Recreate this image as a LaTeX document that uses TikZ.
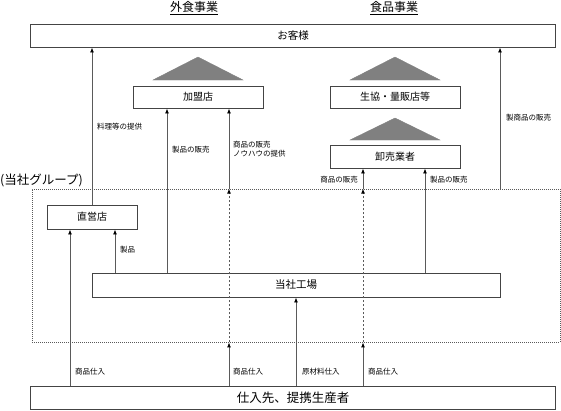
\documentclass[tikz,border=0pt]{standalone}
\usepackage{fontspec}
\setmainfont{Noto Sans CJK JP}
\usetikzlibrary{arrows.meta}
\definecolor{linegray}{HTML}{5A5A5A}
\definecolor{boxgray}{HTML}{444444}
\definecolor{trigray}{HTML}{808080}
\begin{document}
\begin{tikzpicture}[x=1pt,y=-1pt,
  box/.style={draw=boxgray,line width=0.9pt,fill=white,inner sep=0pt,font=\fontsize{10}{10}\selectfont},
  lbl/.style={font=\fontsize{7.5}{9}\selectfont,inner sep=0pt,anchor=west,align=left},
  arr/.style={draw=linegray,line width=0.9pt,-{Latex[length=5pt,width=4pt,fill=black,color=black]}},
  dotarr/.style={arr,dash pattern=on 2pt off 2pt},
  tri/.style={fill=trigray,draw=trigray},
  grpbox/.style={draw=linegray,line width=0.8pt,dash pattern=on 1pt off 1pt,inner sep=0pt},
  title/.style={font=\fontsize{12}{12}\selectfont,inner sep=0pt}]
\useasboundingbox (0,0) rectangle (561,410);

% titles
\node[title] (t1) at (194,8) {\underline{外食事業}};
\node[title] (t2) at (394,8) {\underline{食品事業}};

% group frame
\node[grpbox,minimum width=528pt,minimum height=153pt] (grp) at (296,265.5) {};
\node[font=\fontsize{12.5}{12.5}\selectfont,inner sep=0pt,anchor=west] (grplbl) at (0,180) {(当社グループ)};

% boxes
\node[box,minimum width=525pt,minimum height=23pt,font=\fontsize{10.5}{10.5}\selectfont] (cust) at (293,35.5) {お客様};
\node[box,minimum width=130pt,minimum height=22pt] (fran) at (198,97) {加盟店};
\node[box,minimum width=130pt,minimum height=22pt] (coop) at (395,97) {生協・量販店等};
\node[box,minimum width=130pt,minimum height=23pt] (whol) at (395,156.5) {卸売業者};
\node[box,minimum width=90pt,minimum height=24pt] (direct) at (92,217) {直営店};
\node[box,minimum width=408pt,minimum height=24pt,font=\fontsize{10.5}{10.5}\selectfont] (factory) at (296,285) {当社工場};
\node[box,minimum width=525pt,minimum height=23pt,font=\fontsize{12.5}{12.5}\selectfont] (supp) at (293,397.5) {仕入先、提携生産者};

% triangles
\fill[tri] (153,80) -- (198,57) -- (243,80) -- cycle;
\fill[tri] (350,80) -- (395,57) -- (440,80) -- cycle;
\fill[tri] (350,140) -- (395,118) -- (440,140) -- cycle;

% column coordinates
\coordinate (c70) at (70,0);
\coordinate (c115) at (115,0);
\coordinate (c167) at (167,0);
\coordinate (c229) at (229,0);
\coordinate (c363) at (363,0);
\coordinate (c425) at (425,0);
\coordinate (c500) at (500,0);

% connectors
\draw[arr] (direct.north) -- (direct.north |- cust.south);
\draw[arr] (c70 |- supp.north) -- (c70 |- direct.south);
\draw[arr] (c115 |- factory.north) -- (c115 |- direct.south);
\draw[arr] (c167 |- factory.north) -- (c167 |- fran.south);
\draw[arr] (c229 |- supp.north) -- (c229 |- grp.south);
\draw[dotarr] (c229 |- grp.south) -- (c229 |- grp.north);
\draw[arr] (c229 |- grp.north) -- (c229 |- fran.south);
\draw[arr] (c363 |- supp.north) -- (c363 |- grp.south);
\draw[dotarr] (c363 |- grp.south) -- (c363 |- grp.north);
\draw[arr] (c363 |- grp.north) -- (c363 |- whol.south);
\draw[arr] (supp.north -| factory.south) -- (factory.south);
\draw[arr] (c425 |- factory.north) -- (c425 |- whol.south);
\draw[arr] (c500 |- grp.north) -- (c500 |- cust.south);

% labels
\node[lbl] (l1) at (97,127) {料理等の提供};
\node[lbl] (l2) at (172,150) {製品の販売};
\node[lbl] (l3) at (233,149) {商品の販売\\ノウハウの提供};
\node[lbl] (l4) at (506,118) {製商品の販売};
\node[lbl,anchor=east] (l5) at (358,180) {商品の販売};
\node[lbl] (l6) at (430,180) {製品の販売};
\node[lbl] (l7) at (120,250) {製品};
\node[lbl] (l8) at (75,372) {商品仕入};
\node[lbl] (l9) at (233,372) {商品仕入};
\node[lbl] (l10) at (302,372) {原材料仕入};
\node[lbl] (l11) at (368,372) {商品仕入};
\end{tikzpicture}
\end{document}
